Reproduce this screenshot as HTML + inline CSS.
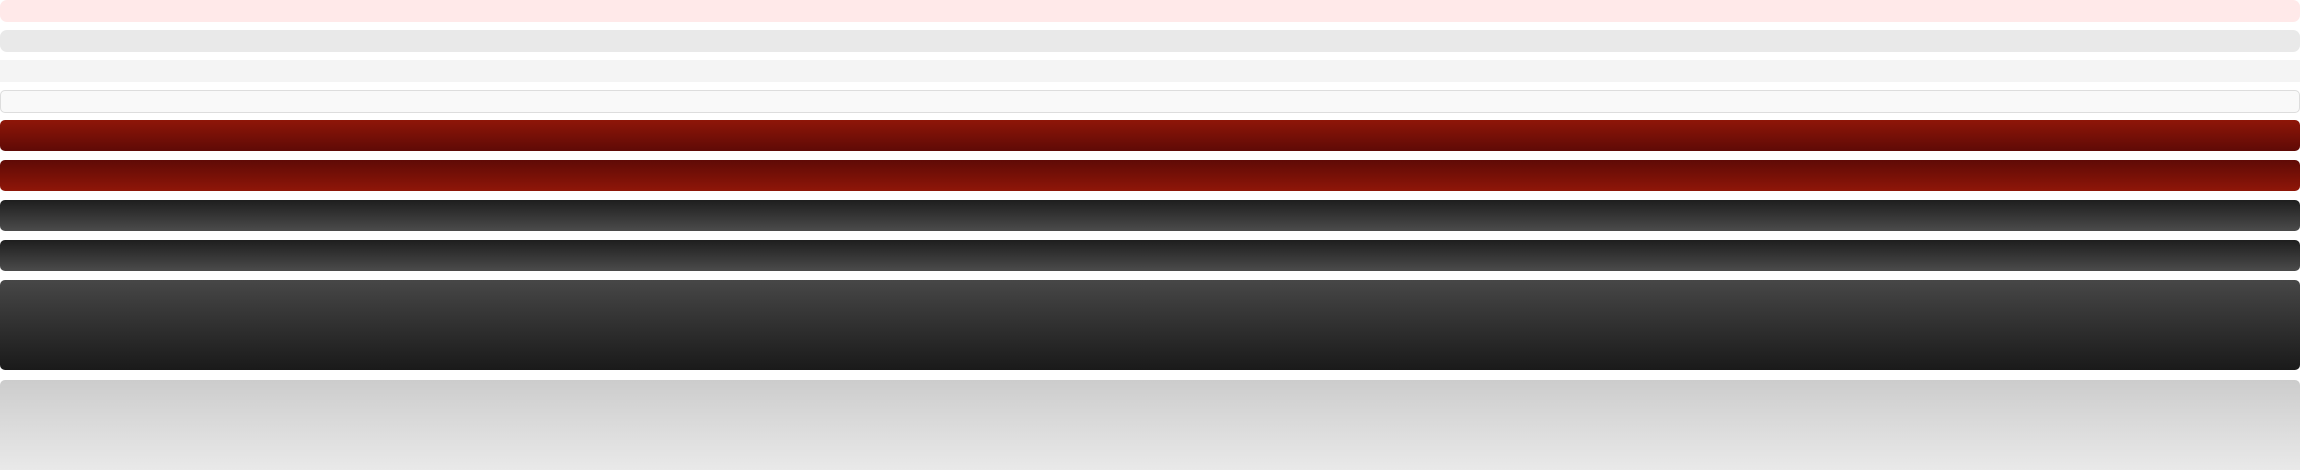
<!DOCTYPE html>
<html><head><meta charset="utf-8"><style>
html,body{margin:0;padding:0;width:2300px;height:470px;overflow:hidden;background:#fff}
.b{position:absolute;left:0;width:2300px;box-sizing:border-box;border-radius:7px}
</style></head><body>
<div class="b" style="top:0;height:22px;background:#ffe9e9"></div>
<div class="b" style="top:30px;height:22px;background:#e9e9e9"></div>
<div class="b" style="top:60px;height:22px;background:#f4f4f4;border-radius:0"></div>
<div class="b" style="top:90px;height:23px;background:#f9f9f9;border:1px solid #ddd;border-radius:5px"></div>
<div class="b" style="top:120px;height:31px;background:linear-gradient(#8f1608,#5f0a06);border-radius:5px"></div>
<div class="b" style="top:160px;height:31px;background:linear-gradient(#5f0a06,#8f1608);border-radius:5px"></div>
<div class="b" style="top:200px;height:31px;background:linear-gradient(#1e1e1e,#4b4b4b);border-radius:5px"></div>
<div class="b" style="top:240px;height:31px;background:linear-gradient(#1e1e1e,#4b4b4b);border-radius:5px"></div>
<div class="b" style="top:280px;height:90px;background:linear-gradient(#474747,#1a1a1a);border-radius:5px"></div>
<div class="b" style="top:380px;height:90px;background:linear-gradient(#cccccc,#e9e9e9);border-radius:5px 5px 0 0"></div>
</body></html>
